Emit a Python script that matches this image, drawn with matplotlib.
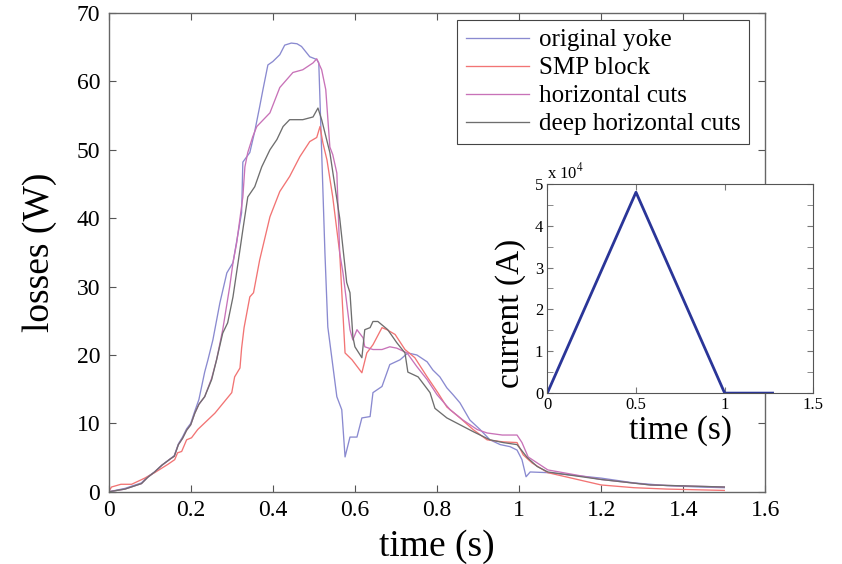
import numpy as np
import matplotlib
matplotlib.use("Agg")
import matplotlib.pyplot as plt
from matplotlib.ticker import MultipleLocator, FuncFormatter

plt.rcParams['font.family'] = ['Liberation Serif', 'DejaVu Serif']
plt.rcParams['mathtext.fontset'] = 'stix'

# losses vs time
t_yoke = [0, 0.04, 0.08, 0.095, 0.112, 0.13, 0.15, 0.16, 0.17, 0.18, 0.19, 0.2, 0.21, 0.22,
          0.234, 0.242, 0.254, 0.271, 0.288, 0.303, 0.324, 0.327, 0.344, 0.356, 0.368, 0.376,
          0.388, 0.4, 0.417, 0.429, 0.445, 0.459, 0.47, 0.49, 0.507, 0.512, 0.527, 0.534,
          0.556, 0.568, 0.576, 0.588, 0.605, 0.617, 0.637, 0.644, 0.666, 0.685, 0.71, 0.729,
          0.751, 0.776, 0.79, 0.807, 0.824, 0.839, 0.856, 0.88, 0.905, 0.929, 0.954, 0.978,
          0.995, 1.007, 1.017, 1.027, 1.07, 1.2, 1.28, 1.36, 1.44, 1.5]
p_yoke = [0, 0.5, 1.3, 2.2, 2.9, 3.9, 4.8, 5.3, 7.0, 8.0, 9.2, 10.0, 11.8, 13.5,
          17.5, 19.3, 22.2, 27.6, 32.0, 33.5, 40.8, 48.2, 49.6, 52.7, 56.3, 58.8,
          62.4, 62.9, 63.9, 65.3, 65.6, 65.5, 65.1, 63.6, 63.2, 62.7, 34.9, 24.1,
          13.9, 12.0, 5.1, 8.0, 8.0, 10.8, 11.0, 14.5, 15.4, 18.6, 19.3, 20.3,
          20.0, 19.0, 17.8, 16.8, 15.2, 14.2, 13.0, 10.5, 9.1, 7.6, 6.9, 6.6,
          6.1, 4.7, 2.2, 2.9, 2.8, 2.0, 1.3, 0.9, 0.7, 0.6]

t_smp = [0, 0.007, 0.03, 0.056, 0.088, 0.112, 0.144, 0.161, 0.168, 0.178, 0.19, 0.202,
         0.217, 0.259, 0.3, 0.307, 0.32, 0.324, 0.33, 0.344, 0.353, 0.368, 0.393, 0.417,
         0.441, 0.466, 0.49, 0.507, 0.515, 0.522, 0.532, 0.546, 0.563, 0.576, 0.593, 0.617,
         0.629, 0.644, 0.666, 0.678, 0.698, 0.722, 0.746, 0.776, 0.802, 0.824, 0.856, 0.888,
         0.922, 0.961, 0.995, 1.01, 1.032, 1.07, 1.2, 1.28, 1.36, 1.5]
p_smp = [0, 0.7, 1.1, 1.1, 2.0, 2.8, 4.0, 4.7, 5.7, 5.9, 7.6, 7.9,
         9.1, 11.5, 14.5, 16.8, 18.1, 21.0, 24.0, 28.5, 29.1, 33.9, 40.2, 43.9,
         46.1, 49.0, 51.2, 51.8, 53.4, 51.0, 48.5, 43.1, 34.9, 20.3, 19.3, 17.4,
         20.3, 21.5, 24.0, 23.7, 23.0, 20.8, 19.6, 16.8, 14.5, 12.4, 10.8, 9.1,
         7.6, 7.3, 7.2, 5.4, 4.2, 2.8, 1.0, 0.6, 0.4, 0.2]

t_hcut = [0, 0.04, 0.08, 0.095, 0.112, 0.13, 0.15, 0.16, 0.17, 0.18, 0.19, 0.2, 0.21, 0.22,
          0.234, 0.251, 0.263, 0.278, 0.295, 0.303, 0.312, 0.327, 0.332, 0.339, 0.351, 0.361,
          0.393, 0.417, 0.449, 0.473, 0.498, 0.507, 0.519, 0.529, 0.539, 0.546, 0.556, 0.563,
          0.571, 0.588, 0.595, 0.605, 0.62, 0.624, 0.644, 0.666, 0.685, 0.702, 0.727, 0.751,
          0.776, 0.8, 0.832, 0.863, 0.898, 0.922, 0.959, 0.995, 1.007, 1.022, 1.07, 1.2,
          1.32, 1.5]
p_hcut = [0, 0.4, 1.2, 2.1, 2.9, 3.9, 4.8, 5.2, 6.9, 7.8, 9.0, 9.8, 11.5, 12.8,
          13.9, 16.6, 19.3, 23.7, 30.0, 33.5, 36.4, 43.1, 47.5, 49.6, 51.9, 53.4,
          55.4, 59.1, 61.3, 61.7, 62.7, 63.3, 61.7, 58.8, 50.4, 49.3, 46.6, 34.9,
          32.0, 23.7, 22.2, 23.7, 22.5, 21.2, 20.8, 20.8, 21.2, 21.0, 20.3, 18.3,
          16.4, 14.2, 12.0, 10.5, 9.1, 8.6, 8.3, 8.3, 7.2, 5.1, 3.2, 1.8,
          1.0, 0.7]

t_deep = [0, 0.04, 0.08, 0.095, 0.112, 0.13, 0.15, 0.16, 0.17, 0.18, 0.19, 0.2, 0.21, 0.22,
          0.234, 0.251, 0.263, 0.278, 0.29, 0.303, 0.32, 0.327, 0.339, 0.356, 0.373, 0.381,
          0.393, 0.41, 0.425, 0.441, 0.473, 0.498, 0.51, 0.519, 0.539, 0.563, 0.58, 0.588,
          0.595, 0.6, 0.617, 0.624, 0.637, 0.644, 0.656, 0.68, 0.702, 0.722, 0.729, 0.754,
          0.783, 0.795, 0.824, 0.856, 0.888, 0.929, 0.961, 0.995, 1.02, 1.044, 1.07, 1.2,
          1.32, 1.5]
p_deep = [0, 0.4, 1.2, 2.1, 2.9, 3.9, 4.8, 5.2, 6.9, 7.8, 9.0, 9.8, 11.5, 12.8,
          13.9, 16.4, 19.3, 23.2, 24.7, 28.5, 35.4, 38.3, 43.1, 44.6, 47.5, 48.5,
          50.0, 51.5, 53.4, 54.4, 54.4, 54.8, 56.1, 54.4, 49.6, 40.0, 30.6, 29.1,
          22.7, 21.2, 19.6, 23.7, 24.0, 24.9, 24.9, 23.7, 21.8, 20.3, 17.5, 16.8,
          14.5, 12.2, 10.8, 9.8, 8.8, 7.6, 7.2, 6.9, 5.0, 3.7, 2.9, 1.8,
          1.0, 0.7]

labels = ["original yoke", "SMP block", "horizontal cuts", "deep horizontal cuts"]
colors = ["#8a8ad0", "#f27474", "#c872b8", "#6e6e6e"]

# current pulse for the inset
t_cur = [0, 0.5, 1.0, 1.27]
i_cur = [0, 4.8e4, 0, 0]

fig = plt.figure(figsize=(8.42, 5.64), dpi=100)
ax = fig.add_axes([0.129, 0.128, 0.780, 0.849])

for tt, pp, lab, col in zip([t_yoke, t_smp, t_hcut, t_deep],
                            [p_yoke, p_smp, p_hcut, p_deep], labels, colors):
    ax.plot(tt, pp, color=col, lw=0.95, label=lab)

ax.set_xlim(0, 1.6)
ax.set_ylim(0, 70)
ax.set_xticks(np.arange(0, 1.61, 0.2))
ax.set_xticklabels(["0", "0.2", "0.4", "0.6", "0.8", "1", "1.2", "1.4", "1.6"])
ax.set_yticks(np.arange(0, 71, 10))
ax.tick_params(direction='in', top=True, right=True, length=5, width=0.8,
               colors='#555555', labelcolor='black', labelsize=17, pad=6)
for s in ax.spines.values():
    s.set_color('#666666')
    s.set_linewidth(1.0)
ax.set_xlabel("time (s)", fontsize=27, labelpad=6)
ax.set_ylabel("losses (W)", fontsize=27, labelpad=14)

leg = ax.legend(loc='upper right', bbox_to_anchor=(0.975, 0.985), fontsize=18,
                frameon=True, fancybox=False, framealpha=1, edgecolor='#444444',
                handlelength=2.5, handletextpad=0.4, labelspacing=0.22,
                borderpad=0.35, borderaxespad=0)
leg.get_frame().set_linewidth(0.8)

# inset
axi = fig.add_axes([0.650, 0.303, 0.316, 0.371])
axi.plot(t_cur, i_cur, color='#2a3598', lw=2.0)
axi.set_xlim(0, 1.5)
axi.set_ylim(0, 5e4)
axi.set_xticks([0, 0.5, 1, 1.5])
axi.set_xticklabels(["0", "0.5", "1", "1.5"])
axi.yaxis.set_major_locator(MultipleLocator(1e4))
axi.yaxis.set_minor_locator(MultipleLocator(0.5e4))
axi.yaxis.set_major_formatter(FuncFormatter(lambda v, _: f"{v / 1e4:g}"))
axi.tick_params(which='both', direction='in', top=True, right=True,
                colors='#777777', labelcolor='black', labelsize=12, pad=3)
axi.tick_params(which='major', length=4)
axi.tick_params(which='minor', length=4)
for s in axi.spines.values():
    s.set_color('#555555')
    s.set_linewidth(0.8)
axi.set_xlabel("time (s)", fontsize=24)
axi.xaxis.set_label_coords(0.5, -0.105)
axi.set_ylabel("current (A)", fontsize=24)
axi.yaxis.set_label_coords(-0.08, 0.38)
axi.text(0.0, 1.005, r"x 10$^4$", transform=axi.transAxes, fontsize=12,
         ha='left', va='bottom')

fig.savefig("out.png", dpi=100)
